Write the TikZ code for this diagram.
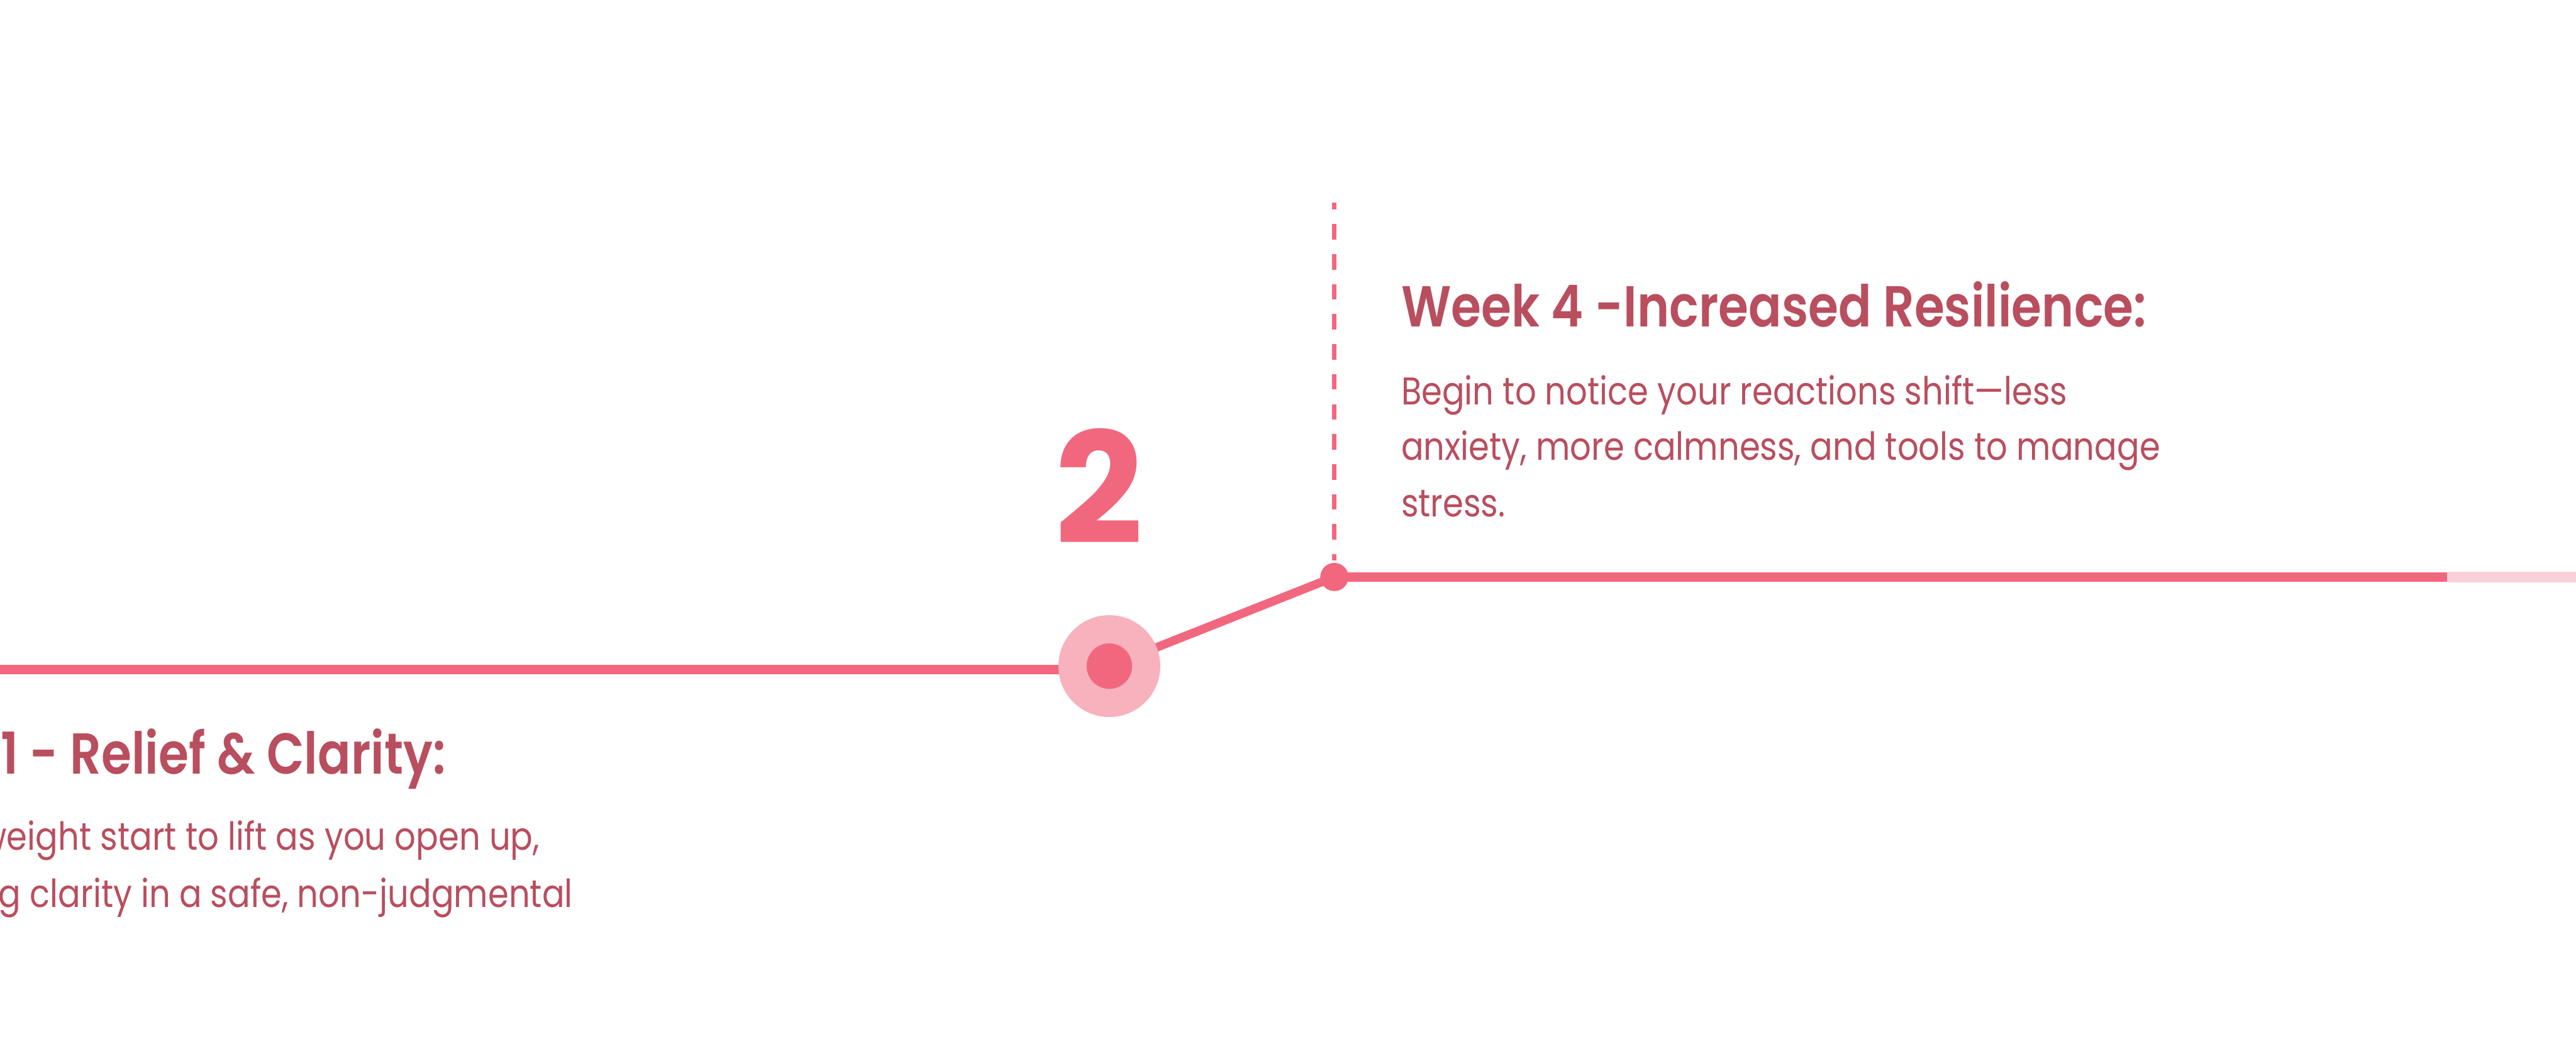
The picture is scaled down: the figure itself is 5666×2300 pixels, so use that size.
\documentclass[tikz,border=0pt]{standalone}
\usepackage{fontspec}
\setmainfont{Poppins}
\newfontfamily\titlefont[FakeStretch=0.845]{Poppins SemiBold}
\newfontfamily\bodyfont[FakeStretch=0.86]{Poppins}
\definecolor{linered}{HTML}{F1687E}
\definecolor{ringpink}{HTML}{F7B2BD}
\definecolor{fadepink}{HTML}{F9D0D9}
\definecolor{textred}{HTML}{B94E5F}
\tikzset{
  track/.style={line width=2.1pt, color=linered},
  fadetrack/.style={line width=2.4pt, color=fadepink},
  slope/.style={line width=1.9pt, color=linered},
  guide/.style={line width=1pt, color=linered, dash pattern=on 3.4pt off 3.2pt, dash phase=1.9pt},
  ring/.style={circle, fill=ringpink, inner sep=0pt, minimum size=22.4pt},
  core/.style={circle, fill=linered, inner sep=0pt, minimum size=10pt},
  joint/.style={circle, fill=linered, inner sep=0pt, minimum size=6.2pt},
  title/.style={inner sep=0pt, text=textred, font=\titlefont\fontsize{12.7pt}{15pt}\selectfont},
  body/.style={inner sep=0pt, text=textred, font=\bodyfont\fontsize{8.5pt}{12.4pt}\selectfont},
  num/.style={inner sep=0pt, text=linered, font=\bfseries\fontsize{34pt}{40pt}\selectfont},
}
\begin{document}
\begin{tikzpicture}[x=0.1pt, y=-0.1pt]
\useasboundingbox[fill=white] (0,0) rectangle (5666,2300);
% coordinates
\coordinate (lstart) at (0,1472);
\coordinate (lend) at (2440,1472);
\coordinate (ringc) at (2440,1465);
\coordinate (dotc) at (2935,1269);
\coordinate (rend) at (5383,1269);
\coordinate (fend) at (5666,1269);
\coordinate (dtop) at (2935,446);
\coordinate (dbot) at (2935,1232);
% lines
\draw[track] (lstart) -- (lend);
\draw[slope] (ringc) -- (dotc);
\draw[track] (dotc) -- (rend);
\draw[fadetrack] (rend) -- (fend);
\draw[guide] (dtop) -- (dbot);
% markers
\node[ring] (ring) at (ringc) {};
\node[core] (core) at (ring.center) {};
\node[joint] (joint) at (dotc) {};
% number
\node[num] (n2) at (2417,1069) {2};
% right block
\node[title, anchor=base west] (t4) at (3080,719) {Week 4 -Increased Resilience:};
\node[body, anchor=base west] (b4a) at (3080,890) {Begin to notice your reactions shift—less};
\node[body, anchor=base west] (b4b) at (3080,1012) {anxiety, more calmness, and tools to manage};
\node[body, anchor=base west] (b4c) at (3080,1137) {stress.};
% left block (cut by the left edge)
\node[title, anchor=base east] (t1) at (982,1702) {1 - Relief \& Clarity:};
\node[body, anchor=base east] (b1a) at (1189,1870) {weight start to lift as you open up,};
\node[body, anchor=base east] (b1b) at (1262,1996) {ng clarity in a safe, non-judgmental};
\end{tikzpicture}
\end{document}
